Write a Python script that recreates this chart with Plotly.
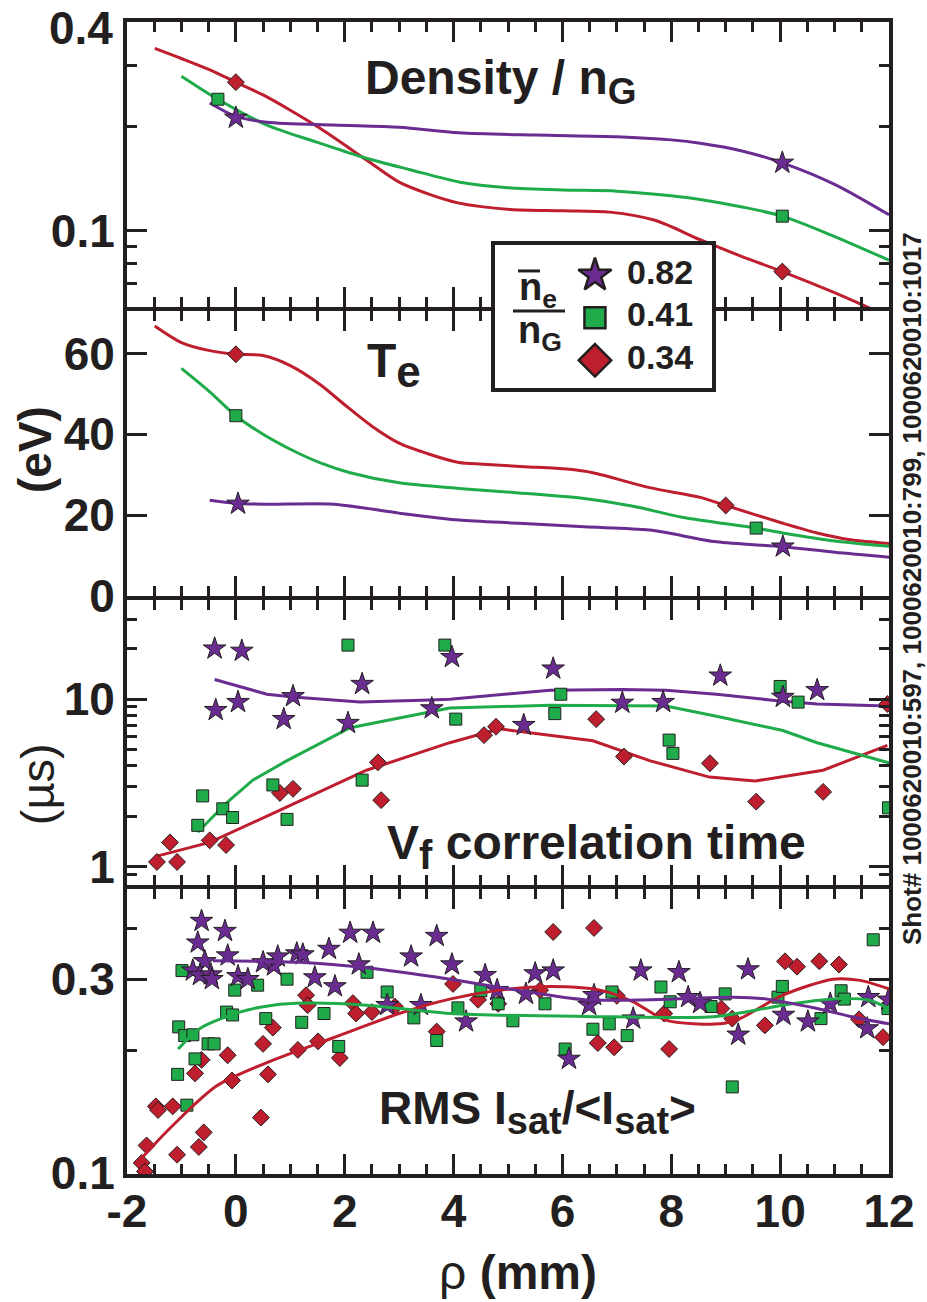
import math
import plotly.graph_objects as go

PURPLE = "#6a2c91"
GREEN = "#1fab4a"
RED = "#be1e2d"
INK = "#231f20"
FONT = "Liberation Sans, Arial, sans-serif"

# ---------------- Density / n_G (fitted profiles + marked points) ----------------
dens_x_082 = [-0.48, 0.0, 0.57, 1.8, 3.0, 4.1, 5.5, 7.0, 8.0, 8.53, 9.3, 10.04, 11.0, 12.0]
dens_y_082 = [0.234, 0.214, 0.206, 0.202, 0.199, 0.192, 0.189, 0.187, 0.183, 0.179, 0.170, 0.157, 0.136, 0.111]
dens_x_041 = [-1.0, -0.33, 0.57, 1.5, 2.33, 3.2, 4.12, 5.0, 6.0, 7.0, 8.0, 8.53, 9.3, 10.04, 11.0, 12.0]
dens_y_041 = [0.28, 0.24, 0.202, 0.18, 0.163, 0.150, 0.138, 0.133, 0.131, 0.130, 0.126, 0.123, 0.117, 0.110, 0.096, 0.082]
dens_x_034 = [-1.49, -1.0, -0.5, 0.0, 0.5, 1.0, 1.54, 2.4, 3.0, 3.57, 4.1, 5.04, 6.0, 6.87, 7.7, 8.53, 9.3, 10.04, 11.0, 11.7]
dens_y_034 = [0.337, 0.315, 0.293, 0.269, 0.247, 0.223, 0.198, 0.160, 0.138, 0.127, 0.120, 0.115, 0.114, 0.113, 0.107, 0.094, 0.084, 0.076, 0.066, 0.059]
dens_pts_x_082 = [0.0, 10.04]
dens_pts_y_082 = [0.212, 0.157]
dens_pts_x_041 = [-0.33, 10.04]
dens_pts_y_041 = [0.240, 0.110]
dens_pts_x_034 = [0.0, 10.04]
dens_pts_y_034 = [0.269, 0.076]

# ---------------- Te (eV) ----------------
te_x_082 = [-0.48, 0.04, 0.57, 1.8, 3.0, 4.1, 5.2, 6.4, 7.6, 8.83, 10.05, 11.0, 12.08]
te_y_082 = [23.7, 22.9, 22.7, 22.7, 20.5, 18.8, 18.0, 17.1, 16.3, 13.4, 12.2, 10.8, 9.5]
te_x_041 = [-1.0, -0.48, 0.0, 0.5, 1.0, 1.54, 2.1, 3.0, 4.1, 5.2, 6.4, 7.3, 8.2, 9.56, 10.05, 11.0, 12.08]
te_y_041 = [56.3, 50.5, 44.6, 40.0, 36.3, 33.0, 30.5, 28.0, 26.6, 25.5, 24.1, 22.2, 19.5, 16.8, 15.6, 13.6, 12.2]
te_x_034 = [-1.49, -1.0, -0.48, 0.0, 0.5, 1.0, 1.54, 2.0, 2.5, 3.0, 3.57, 4.1, 4.54, 5.3, 6.08, 6.56, 7.6, 8.53, 9.0, 10.05, 10.68, 11.3, 12.08]
te_y_034 = [66.8, 62.7, 60.7, 59.8, 59.5, 57.0, 52.4, 47.3, 42.0, 37.8, 35.0, 33.0, 32.6, 32.0, 31.4, 30.5, 26.8, 24.4, 22.4, 18.0, 15.6, 13.9, 12.9]
te_pts_x_082 = [0.04, 10.05]
te_pts_y_082 = [22.8, 12.2]
te_pts_x_041 = [0.0, 9.56]
te_pts_y_041 = [44.6, 16.8]
te_pts_x_034 = [0.0, 9.0]
te_pts_y_034 = [59.8, 22.4]

# ---------------- V_f correlation time (us) ----------------
tau_line_x_082 = [-0.39, 0.57, 1.05, 2.28, 3.57, 3.93, 5.77, 7.1, 7.9, 8.83, 10.05, 10.68, 11.97]
tau_line_y_082 = [13.1, 10.7, 10.3, 9.6, 9.9, 10.0, 11.3, 11.4, 11.3, 10.7, 9.7, 9.35, 9.1]
tau_line_x_041 = [-0.7, -0.17, 0.31, 0.94, 2.1, 3.0, 3.93, 5.77, 7.9, 8.83, 10.05, 10.68, 12.02]
tau_line_y_041 = [1.61, 2.41, 3.29, 4.3, 6.75, 7.75, 8.85, 9.2, 9.1, 7.9, 6.5, 5.5, 4.15]
tau_line_x_034 = [-1.45, -0.48, 0.94, 2.4, 3.93, 4.85, 6.56, 7.6, 8.7, 9.54, 10.79, 11.97]
tau_line_y_034 = [1.16, 1.40, 2.28, 3.77, 5.5, 6.65, 5.65, 4.3, 3.43, 3.25, 3.77, 5.3]

tau_x_082 = [-0.39, 0.11, -0.37, 0.04, 1.05, 0.88, 2.06, 2.32, 3.6, 3.97, 5.83, 7.1, 7.85, 5.29, 8.9, 10.05, 10.68]
tau_y_082 = [20.0, 19.4, 8.6, 9.6, 10.4, 7.6, 7.2, 12.3, 8.8, 17.8, 15.2, 9.5, 9.6, 7.0, 13.8, 10.3, 11.3]
tau_x_041 = [2.06, 3.84, -0.61, -0.7, -0.24, -0.06, 0.68, 0.94, 2.32, 4.04, 5.97, 5.86, 7.96, 8.03, 10.0, 10.33, 11.99]
tau_y_041 = [21.0, 21.0, 2.65, 1.77, 2.22, 1.97, 3.08, 1.92, 3.29, 7.6, 10.7, 8.2, 5.7, 4.75, 11.9, 9.6, 2.25]
tau_x_034 = [-1.45, -1.21, -1.08, -0.48, -0.18, 0.81, 1.05, 2.61, 2.67, 4.56, 4.78, 6.62, 7.13, 8.71, 9.56, 10.79, 11.97]
tau_y_034 = [1.07, 1.40, 1.07, 1.44, 1.35, 2.76, 2.92, 4.2, 2.5, 6.1, 6.85, 7.6, 4.55, 4.15, 2.45, 2.8, 9.35]

# ---------------- RMS Isat / <Isat> ----------------
rms_line_x_082 = [-0.42, 1.18, 2.4, 3.93, 5.17, 6.4, 7.6, 9.14, 9.76, 10.68, 11.29, 12.0]
rms_line_y_082 = [0.333, 0.330, 0.320, 0.300, 0.282, 0.267, 0.267, 0.271, 0.268, 0.254, 0.243, 0.233]
rms_line_x_041 = [-1.06, -0.66, 0.07, 0.68, 1.3, 2.4, 3.93, 6.4, 8.83, 10.05, 10.97, 11.6, 12.0]
rms_line_y_041 = [0.202, 0.227, 0.249, 0.259, 0.262, 0.259, 0.247, 0.243, 0.243, 0.259, 0.268, 0.267, 0.254]
rms_line_x_034 = [-1.73, -1.16, -0.35, 0.57, 1.78, 3.0, 3.93, 4.85, 5.77, 6.69, 7.3, 7.9, 8.9, 9.26, 10.05, 10.97, 11.47, 12.0]
rms_line_y_034 = [0.109, 0.131, 0.164, 0.187, 0.215, 0.247, 0.268, 0.282, 0.288, 0.282, 0.264, 0.238, 0.233, 0.240, 0.274, 0.300, 0.298, 0.284]

rms_x_082 = [-0.63, -0.20, -0.70, -0.15, -0.57, -0.79, -0.66, -0.46, -0.44, 0.04, 0.22, 0.50, 0.70, 0.77,
             1.12, 1.23, 1.71, 1.45, 1.82, 2.10, 2.52, 2.26, 2.78, 3.40, 3.22, 3.69, 3.97, 4.58, 4.23,
             4.80, 5.50, 5.83, 5.33, 6.49, 6.58, 6.12, 7.30, 7.44, 8.14, 8.31, 8.53, 9.41, 9.23, 10.06,
             10.51, 10.92, 11.62, 11.60, 11.99]
rms_y_082 = [0.417, 0.394, 0.369, 0.343, 0.332, 0.315, 0.307, 0.308, 0.300, 0.305, 0.300, 0.330, 0.324, 0.341,
             0.347, 0.345, 0.356, 0.303, 0.288, 0.390, 0.390, 0.326, 0.259, 0.259, 0.341, 0.383, 0.326, 0.307, 0.236,
             0.282, 0.310, 0.315, 0.276, 0.259, 0.274, 0.191, 0.240, 0.315, 0.312, 0.271, 0.262, 0.317, 0.219, 0.245,
             0.236, 0.261, 0.271, 0.227, 0.267]
rms_x_041 = [-0.99, -0.02, 0.40, 0.94, -0.17, -0.06, 0.55, 1.21, 1.62, -1.05, -0.94, -0.79, -0.51, -0.40,
             -0.75, -1.07, -0.90, 1.89, 2.41, 2.78, 3.27, 3.69, 4.08, 4.50, 4.82, 5.09, 5.68, 6.05, 6.56,
             6.86, 6.91, 7.19, 7.81, 7.98, 8.73, 8.99, 9.12, 9.96, 10.04, 10.75, 11.12, 11.18, 11.71, 11.98]
rms_y_041 = [0.315, 0.282, 0.290, 0.300, 0.249, 0.245, 0.240, 0.235, 0.247, 0.229, 0.218, 0.219, 0.208, 0.208,
             0.191, 0.175, 0.147, 0.205, 0.312, 0.279, 0.241, 0.212, 0.255, 0.281, 0.261, 0.237, 0.261, 0.202, 0.226,
             0.233, 0.279, 0.218, 0.287, 0.264, 0.257, 0.276, 0.163, 0.271, 0.288, 0.240, 0.281, 0.268, 0.375, 0.254]
rms_x_034 = [-1.73, -1.67, -1.64, -1.47, -1.43, -1.16, -1.08, -0.68, -0.59, -0.75, -0.63, -0.15, -0.07, 0.46,
             0.59, 0.50, 0.68, 1.14, 1.51, 1.91, 1.29, 1.32, 2.15, 2.21, 2.50, 2.92, 3.69, 3.99, 4.45, 4.82,
             5.59, 5.83, 6.58, 7.00, 6.65, 6.95, 7.87, 7.96, 8.92, 9.12, 9.72, 10.09, 10.31, 10.72, 11.08,
             11.45, 11.89]
rms_y_034 = [0.106, 0.101, 0.117, 0.146, 0.143, 0.146, 0.111, 0.116, 0.126, 0.176, 0.190, 0.195, 0.169, 0.137,
             0.175, 0.208, 0.228, 0.201, 0.211, 0.192, 0.274, 0.259, 0.262, 0.247, 0.249, 0.257, 0.223, 0.292,
             0.267, 0.261, 0.282, 0.392, 0.401, 0.273, 0.209, 0.204, 0.247, 0.202, 0.254, 0.240, 0.231, 0.332,
             0.322, 0.332, 0.326, 0.239, 0.216]

# ---------------- legend key ----------------
key_labels = ["0.82", "0.41", "0.34"]
key_symbols = ["star", "square", "diamond"]
key_colors = [PURPLE, GREEN, RED]
key_sizes = [25, 21, 25]

x_ticks = [-2, 0, 2, 4, 6, 8, 10, 12]
x_tick_text = ["-2", "0", "2", "4", "6", "8", "10", "12"]
x_minor = [v / 2 for v in range(-4, 25) if v % 4 != 0]

series = [
    dict(color=RED, symbol="diamond", size=13),
    dict(color=GREEN, symbol="square", size=12),
    dict(color=PURPLE, symbol="star", size=17),
]

fig = go.Figure()


def axis_ids(row):
    suffix = "" if row == 1 else str(row)
    return "x" + suffix, "y" + suffix


def add_line(x, y, color, row, shape="spline", smoothing=0.8):
    line = dict(color=color, width=3)
    if shape == "spline":
        line.update(shape="spline", smoothing=smoothing)
    xa, ya = axis_ids(row)
    fig.add_trace(go.Scatter(x=x, y=y, mode="lines", line=line, hoverinfo="skip", xaxis=xa, yaxis=ya))


def add_points(x, y, style, row):
    xa, ya = axis_ids(row)
    fig.add_trace(go.Scatter(
        x=x, y=y, mode="markers", xaxis=xa, yaxis=ya,
        marker=dict(symbol=style["symbol"], size=style["size"], color=style["color"], opacity=1,
                    line=dict(color=INK, width=1)),
    ))


# panel 1 : density
add_line(dens_x_034, dens_y_034, RED, 1)
add_line(dens_x_041, dens_y_041, GREEN, 1)
add_line(dens_x_082, dens_y_082, PURPLE, 1)
add_points(dens_pts_x_034, dens_pts_y_034, series[0], 1)
add_points(dens_pts_x_041, dens_pts_y_041, series[1], 1)
add_points(dens_pts_x_082, dens_pts_y_082, series[2], 1)

# panel 2 : Te
add_line(te_x_034, te_y_034, RED, 2)
add_line(te_x_041, te_y_041, GREEN, 2)
add_line(te_x_082, te_y_082, PURPLE, 2)
add_points(te_pts_x_034, te_pts_y_034, series[0], 2)
add_points(te_pts_x_041, te_pts_y_041, series[1], 2)
add_points(te_pts_x_082, te_pts_y_082, series[2], 2)

# panel 3 : correlation time
add_line(tau_line_x_034, tau_line_y_034, RED, 3, shape="linear")
add_line(tau_line_x_041, tau_line_y_041, GREEN, 3, shape="linear")
add_line(tau_line_x_082, tau_line_y_082, PURPLE, 3, shape="linear")
add_points(tau_x_034, tau_y_034, series[0], 3)
add_points(tau_x_041, tau_y_041, series[1], 3)
add_points(tau_x_082, tau_y_082, series[2], 3)

# panel 4 : RMS fluctuation level
add_points(rms_x_034, rms_y_034, series[0], 4)
add_points(rms_x_041, rms_y_041, series[1], 4)
add_points(rms_x_082, rms_y_082, series[2], 4)
add_line(rms_line_x_034, rms_line_y_034, RED, 4)
add_line(rms_line_x_041, rms_line_y_041, GREEN, 4)
add_line(rms_line_x_082, rms_line_y_082, PURPLE, 4)

# legend key drawn on its own small axes
fig.add_trace(go.Scatter(
    x=[0.46] * 3, y=key_labels, mode="markers",
    marker=dict(symbol=key_symbols, size=key_sizes, color=key_colors, opacity=1,
                line=dict(color=INK, width=2.5)),
    xaxis="x5", yaxis="y5", hoverinfo="skip",
))
fig.add_trace(go.Scatter(
    x=[0.76] * 3, y=key_labels, mode="text", text=key_labels, textposition="middle center",
    textfont=dict(family=FONT, size=34, color=INK, weight="bold"),
    xaxis="x5", yaxis="y5", hoverinfo="skip",
))

tick_font = dict(family=FONT, size=46, color=INK, weight="bold")


def frame_axis(**kw):
    base = dict(
        showline=True, linewidth=4, linecolor=INK, mirror="ticks",
        ticks="inside", ticklen=20, tickwidth=3, tickcolor=INK,
        showgrid=False, zeroline=False, tickfont=tick_font,
        ticklabeloverflow="allow", automargin=False, layer="above traces",
    )
    base.update(kw)
    return base


def minor_ticks(vals):
    return dict(tickmode="array", tickvals=vals, ticks="inside", ticklen=10, tickwidth=3, tickcolor=INK)


# four stacked panels; a gap equal to the frame width lets neighbouring frames share one rule
gap = 4 / 1152
h = (1 - 3 * gap) / 4
domains = [[3 * h + 3 * gap, 1.0], [2 * h + 2 * gap, 3 * h + 2 * gap], [h + gap, 2 * h + gap], [0.0, h]]

# the 0.4 label of the top panel sits just below the frame corner, so it is set as its own text
y_specs = [
    dict(type="log", range=[math.log10(0.06), math.log10(0.4) + 0.002],
         tickmode="array", tickvals=[0.1, 0.4], ticktext=["0.1", ""],
         minor=minor_ticks([0.07, 0.08, 0.09, 0.2, 0.3])),
    dict(range=[0, 70.5], tickmode="array", tickvals=[0, 20, 40, 60]),
    dict(type="log", range=[math.log10(0.78), math.log10(39)],
         tickmode="array", tickvals=[1, 10], ticktext=["1", "10"],
         minor=minor_ticks([0.9, 2, 3, 4, 5, 6, 7, 8, 9, 20, 30])),
    dict(type="log", range=[-1.002, math.log10(0.5)],
         tickmode="array", tickvals=[0.1, 0.3], ticktext=["0.1", "0.3"],
         minor=minor_ticks([0.2, 0.4])),
]

axes_layout = {}
for r in range(1, 5):
    suffix = "" if r == 1 else str(r)
    axes_layout["xaxis" + suffix] = frame_axis(
        domain=[0, 1], anchor="y" + suffix, range=[-2, 12],
        tickmode="array", tickvals=x_ticks, ticktext=x_tick_text,
        minor=minor_ticks(x_minor), showticklabels=(r == 4), ticklabelstandoff=-6,
    )
    axes_layout["yaxis" + suffix] = frame_axis(
        domain=domains[r - 1], anchor="x" + suffix, ticklabelstandoff=-1, **y_specs[r - 1]
    )

key_box = dict(showline=True, linewidth=4, linecolor=INK, mirror=True, ticks="",
               showticklabels=False, showgrid=False, zeroline=False, fixedrange=True)
axes_layout["xaxis5"] = dict(domain=[0.483, 0.768], anchor="y5", range=[0, 1], **key_box)
axes_layout["yaxis5"] = dict(domain=[0.682, 0.806], anchor="x5", range=[-0.66, 2.70], type="category",
                             categoryorder="array", categoryarray=key_labels[::-1], **key_box)
fig.update_layout(**axes_layout)

# white backing of the key, drawn in the key's own layer so it covers the panel frames
fig.add_shape(type="rect", xref="x5", yref="y5", x0=0, x1=1, y0=-0.66, y1=2.70,
              fillcolor="white", line=dict(width=0), layer="below")
# bar over n_e and the fraction rule
fig.add_shape(type="line", xref="paper", yref="paper", x0=0.5131, x1=0.5420, y0=0.7839, y1=0.7839,
              line=dict(color=INK, width=3), layer="above")
fig.add_shape(type="line", xref="paper", yref="paper", x0=0.5066, x1=0.5748, y0=0.7491, y1=0.7491,
              line=dict(color=INK, width=3), layer="above")


def label(text, x, y, size, bold=True, angle=0, xanchor="center"):
    fig.add_annotation(
        text=text, x=x, y=y, xref="paper", yref="paper", showarrow=False,
        xanchor=xanchor, yanchor="middle", textangle=angle,
        font=dict(family=FONT, size=size, color=INK, weight="bold" if bold else "normal"),
    )


label("0.4", -0.0157, 0.9948, 46, xanchor="right")
label("Density / n<sub><span style='font-size:37px'>G</span></sub>", 0.3097, 0.948, 48, xanchor="left")
label("T<sub><span style='font-size:44px'>e</span></sub>", 0.3123, 0.7023, 48, xanchor="left")
label("V<sub><span style='font-size:40px'>f</span></sub> correlation time", 0.3386, 0.2847, 48, xanchor="left")
label("RMS I<sub><span style='font-size:38px'>sat</span></sub>/&lt;I<sub><span style='font-size:38px'>sat</span></sub>&gt;",
      0.3281, 0.0538, 46, xanchor="left")
label("(eV)", -0.1207, 0.6285, 46, angle=-90)
label("(µs)", -0.118, 0.3385, 47, bold=False, angle=-90)
label("<span style='font-weight:normal'>ρ</span> (mm)", 0.5131, -0.0851, 48)
label("Shot# 1000620010:597, 1000620010:799, 1000620010:1017", 1.0302, 0.5078, 26, angle=-90)
label("n<sub>e</sub>", 0.5394, 0.7674, 38)
label("n<sub>G</sub>", 0.5420, 0.7300, 38)

fig.update_layout(
    width=927, height=1302,
    margin=dict(l=127, r=38, t=22, b=128, autoexpand=False),
    plot_bgcolor="white", paper_bgcolor="white",
    showlegend=False,
    font=dict(family=FONT, color=INK),
)

fig.write_html("out.html")
